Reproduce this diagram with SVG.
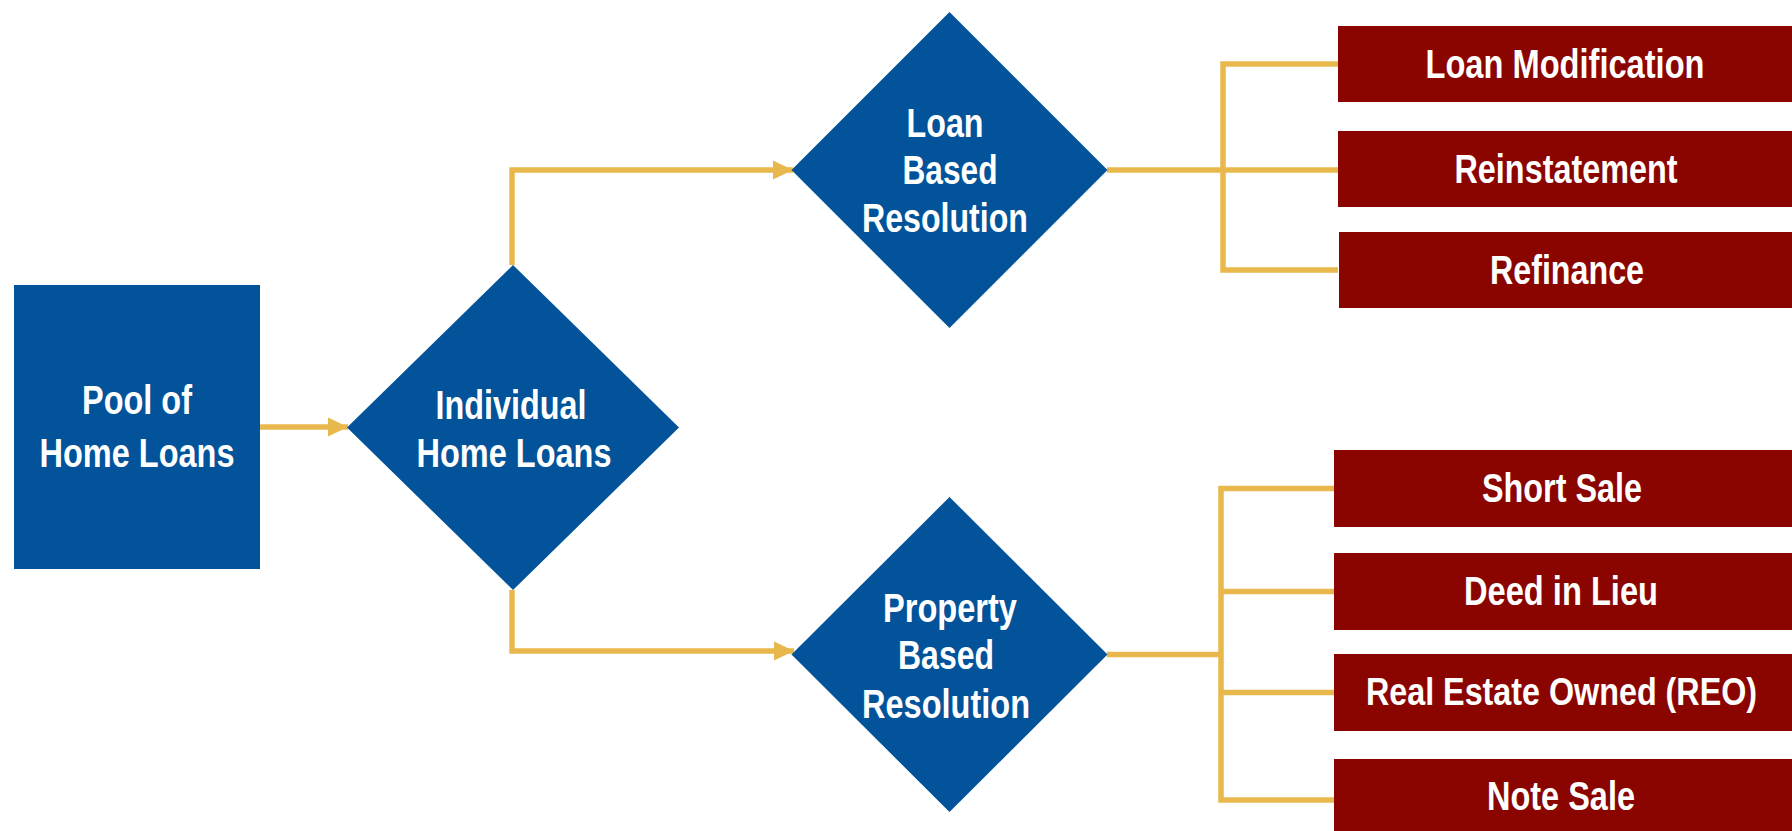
<svg xmlns="http://www.w3.org/2000/svg" width="1792" height="831" viewBox="0 0 1792 831">
<style>
.blue{fill:#02539A}
.red{fill:#8B0500}
.conn{fill:none;stroke:#E8B84C;stroke-width:5.5;stroke-linejoin:miter;stroke-linecap:butt}
text{font-family:"Liberation Sans Narrow","Liberation Sans",Arial,sans-serif;font-size:40px;font-weight:bold;fill:#FFFFFF;text-anchor:middle}
</style>
<defs>
<marker id="arr" markerUnits="userSpaceOnUse" markerWidth="21" markerHeight="20" refX="20" refY="10" orient="auto" viewBox="0 0 21 20">
<path d="M0,0.5 L20,10 L0,19.5 Z" fill="#E8B84C"/>
</marker>
</defs>
<rect width="1792" height="831" fill="#FFFFFF"/>
<g id="connectors">
<path class="conn" d="M260,427 H348" marker-end="url(#arr)"/>
<path class="conn" d="M512,265 V170 H793" marker-end="url(#arr)"/>
<path class="conn" d="M512,590 V651 H794" marker-end="url(#arr)"/>
<path class="conn" d="M1107,170 H1338"/>
<path class="conn" d="M1338,64 H1223 V270 H1338"/>
<path class="conn" d="M1107,654.5 H1221"/>
<path class="conn" d="M1334,488.5 H1221 V800 H1334"/>
<path class="conn" d="M1221,591.5 H1334"/>
<path class="conn" d="M1221,692.5 H1334"/>
</g>
<g id="pool">
<rect class="blue" x="14" y="285" width="246" height="284"/>
<text x="137" y="414" textLength="110" lengthAdjust="spacingAndGlyphs">Pool of</text>
<text x="137" y="467" textLength="195" lengthAdjust="spacingAndGlyphs">Home Loans</text>
</g>
<g id="individual">
<polygon class="blue" points="513,265 679,427.5 513,590 347,427.5"/>
<text x="511" y="419" textLength="151" lengthAdjust="spacingAndGlyphs">Individual</text>
<text x="514" y="467" textLength="195" lengthAdjust="spacingAndGlyphs">Home Loans</text>
</g>
<g id="loan-based">
<polygon class="blue" points="949.5,12 1107.5,170 949.5,328 791.5,170"/>
<text x="945" y="137" textLength="77" lengthAdjust="spacingAndGlyphs">Loan</text>
<text x="950" y="184" textLength="95" lengthAdjust="spacingAndGlyphs">Based</text>
<text x="945" y="232" textLength="166" lengthAdjust="spacingAndGlyphs">Resolution</text>
</g>
<g id="property-based">
<polygon class="blue" points="949.5,497 1107.5,654.5 949.5,812 791.5,654.5"/>
<text x="950" y="622" textLength="134" lengthAdjust="spacingAndGlyphs">Property</text>
<text x="946" y="669" textLength="96" lengthAdjust="spacingAndGlyphs">Based</text>
<text x="946" y="718" textLength="168" lengthAdjust="spacingAndGlyphs">Resolution</text>
</g>
<g id="loan-modification">
<rect class="red" x="1338" y="26" width="454" height="76"/>
<text x="1565" y="78" textLength="279" lengthAdjust="spacingAndGlyphs">Loan Modification</text>
</g>
<g id="reinstatement">
<rect class="red" x="1338" y="131" width="454" height="76"/>
<text x="1566" y="183" textLength="223" lengthAdjust="spacingAndGlyphs">Reinstatement</text>
</g>
<g id="refinance">
<rect class="red" x="1339" y="232" width="453" height="76"/>
<text x="1567" y="284" textLength="154" lengthAdjust="spacingAndGlyphs">Refinance</text>
</g>
<g id="short-sale">
<rect class="red" x="1334" y="450" width="458" height="77"/>
<text x="1562" y="502" textLength="160" lengthAdjust="spacingAndGlyphs">Short Sale</text>
</g>
<g id="deed-in-lieu">
<rect class="red" x="1334" y="553" width="458" height="77"/>
<text x="1561" y="605" textLength="194" lengthAdjust="spacingAndGlyphs">Deed in Lieu</text>
</g>
<g id="reo">
<rect class="red" x="1334" y="654" width="458" height="77"/>
<text transform="translate(1561.5,705) scale(0.85,1)" x="0" y="0" style="font-size:38px">Real Estate Owned (REO)</text>
</g>
<g id="note-sale">
<rect class="red" x="1334" y="759" width="458" height="72"/>
<text x="1561" y="810" textLength="148" lengthAdjust="spacingAndGlyphs">Note Sale</text>
</g>
</svg>
